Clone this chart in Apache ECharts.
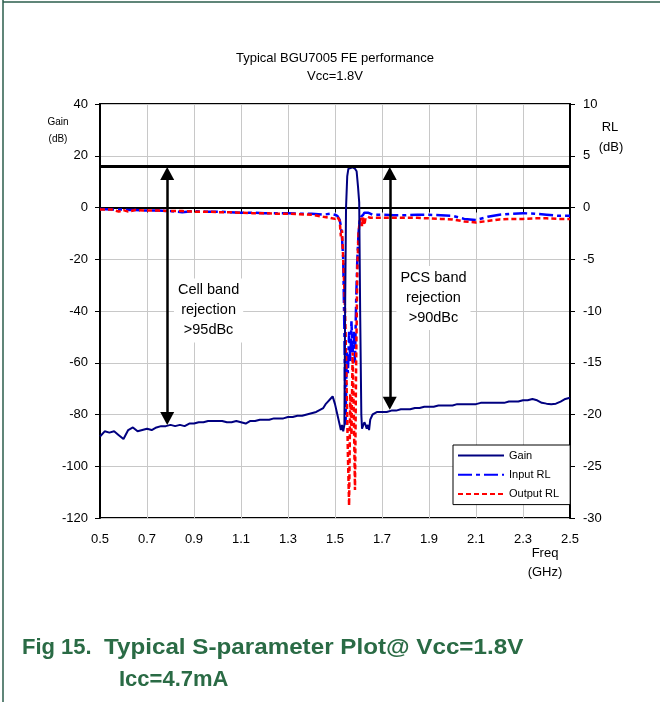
<!DOCTYPE html>
<html><head><meta charset="utf-8">
<script src="https://cdn.jsdelivr.net/npm/echarts@6/dist/echarts.min.js"></script>
<style>html,body{margin:0;padding:0;background:#fff}#c{width:660px;height:702px}</style>
</head><body><div id="c"></div>
<script>
// ---- Gain (left axis, dB) ----
const gainFreq = [0.50,0.52,0.54,0.56,0.58,0.60,0.62,0.64,0.66,0.68,0.70,0.72,0.74,0.76,0.78,0.80,0.82,0.84,0.86,0.88,0.90,0.92,0.94,0.96,0.98,1.00,1.02,1.04,1.06,1.08,1.10,1.12,1.14,1.16,1.18,1.20,1.22,1.24,1.26,1.28,1.30,1.32,1.34,1.36,1.38,1.40,1.42,1.44,
  1.45,1.46,1.47,1.48,1.49,1.495,1.50,1.51,1.52,1.525,1.53,1.535,1.54,1.543,1.547,1.552,1.557,1.565,1.575,1.585,1.592,1.598,1.603,1.607,1.612,1.615,1.62,1.625,1.63,1.635,1.64,1.645,1.65,1.66,1.67,1.68,1.70,
  1.72,1.74,1.76,1.78,1.80,1.82,1.84,1.86,1.88,1.90,1.92,1.94,1.96,1.98,2.00,2.02,2.04,2.06,2.08,2.10,2.12,2.14,2.16,2.18,2.20,2.22,2.24,2.26,2.28,2.30,2.32,2.34,2.36,2.38,2.40,2.42,2.44,2.46,2.48,2.50];
const gainDb = [-88.5,-86.5,-87,-86.5,-88,-89.5,-86,-85,-86.5,-86,-85.5,-86,-85,-84.5,-84.5,-84,-84.5,-84,-84.5,-83.5,-83.5,-83,-83,-82.5,-82.5,-82.5,-82.5,-83,-83,-82.5,-83,-83.5,-82.5,-82.5,-82,-82,-82,-81.5,-81.5,-81.5,-81,-81,-80.5,-80.5,-80,-79.5,-79,-78,
  -77.5,-76,-75,-74,-73,-73.5,-76,-80,-84,-86,-84,-86.5,-84,-40,0,12,15,15.5,15.5,15,14,8,2,-40,-80,-85.5,-85,-83,-84,-85.5,-84,-86,-82,-80,-79.5,-79,-79,
  -79,-78.5,-78.5,-78,-78,-78,-77.5,-77.5,-77,-77,-77,-76.5,-76.5,-76.5,-76.5,-76,-76,-76,-76,-76,-75.5,-75.5,-75.5,-75.5,-75.5,-75.5,-75,-75,-75,-74.5,-74.5,-74,-74.5,-75.5,-75.8,-76,-75.8,-75,-74,-73.5];

// ---- Return loss (right axis, dB) ----
const rlFreq = [0.50,0.55,0.58,0.60,0.62,0.65,0.70,0.75,0.80,0.85,0.90,0.95,1.00,1.05,1.10,1.15,1.20,1.25,1.30,1.35,1.40,1.45,1.48,1.50,1.51,1.52,1.525,1.53,1.535,1.54,1.545,1.55,1.555,1.56,1.565,1.57,1.575,1.58,1.585,1.59,1.595,1.60,1.605,1.61,1.615,1.62,1.625,1.63,1.64,1.65,1.66,1.70,1.75,1.80,1.85,1.90,1.95,2.00,2.05,2.10,2.15,2.20,2.25,2.30,2.35,2.40,2.45,2.50];
const inputRl = [-0.15,-0.2,-0.2,-0.2,-0.25,-0.25,-0.3,-0.3,-0.35,-0.45,-0.35,-0.4,-0.4,-0.45,-0.5,-0.5,-0.55,-0.55,-0.55,-0.6,-0.6,-0.7,-0.6,-0.7,-0.8,-1.2,-1.8,-3,-5,-12,-21,-14,-16,-12,-15,-11,-14,-12,-15,-9,-5,-2.5,-1.2,-0.9,-0.8,-0.7,-0.5,-0.6,-0.5,-0.6,-0.7,-0.7,-0.75,-0.75,-0.7,-0.7,-0.75,-0.8,-1.1,-1.2,-0.9,-0.7,-0.6,-0.55,-0.6,-0.7,-0.8,-0.8];
const outputRl = [-0.2,-0.2,-0.4,-0.25,-0.4,-0.25,-0.3,-0.3,-0.35,-0.35,-0.4,-0.4,-0.45,-0.45,-0.5,-0.55,-0.55,-0.6,-0.6,-0.65,-0.7,-0.9,-1.0,-1.1,-0.9,-1.3,-2.8,-2.2,-5,-8,-12,-18,-24,-28.8,-18,-22,-14,-20,-27.3,-15,-6,-2.5,-1.3,-1.0,-1.8,-0.9,-1.7,-1.0,-0.9,-1.0,-1.0,-1.0,-1.0,-1.0,-1.0,-1.05,-1.1,-1.15,-1.35,-1.45,-1.3,-1.15,-1.1,-1.1,-1.05,-1.05,-1.1,-1.1];

// ---- Axes ----
const xRange = [0.5, 2.5, 0.2];
const gainRange = [-120, 40, 20];
const rlRange = [-30, 10, 5];

// ---- Annotations (data units) ----
const refLineGain = 15.8;
const arrowX = [0.786, 1.733];
const arrowTop = [13.1, 13.1];
const arrowBottom = [-81.5, -75.7];
const noteText = ['Cell band\nrejection\n>95dBc', 'PCS band\nrejection\n>90dBc'];
const noteX = [0.962, 1.919];
const noteY = [-39.8, -35];

const FONT = '"Liberation Sans", Arial, sans-serif';
const zip = (a, b) => a.map((v, i) => [v, b[i]]);

const chart = echarts.init(document.getElementById('c'), null, {renderer: 'canvas'});
const axisCommon = {
  axisLine: {show: true, lineStyle: {color: '#000', width: 2}},
  axisTick: {show: true, length: 5, lineStyle: {color: '#000', width: 1}},
  axisLabel: {color: '#000', fontSize: 13, fontFamily: FONT}
};
chart.setOption({
  animation: false,
  grid: {left: 100, right: 90, top: 104, bottom: 184, show: true, borderColor: '#000', borderWidth: 2, backgroundColor: 'transparent'},
  legend: {
    data: ['Gain', 'Input RL', 'Output RL'],
    orient: 'vertical', left: 453, top: 445,
    itemWidth: 46, itemHeight: 14, itemGap: 8,
    padding: [5, 11, 5, 4],
    borderColor: '#000', borderWidth: 1, backgroundColor: '#fff',
    itemStyle: {opacity: 0},
    textStyle: {fontSize: 11, color: '#000', fontFamily: FONT},
    selectedMode: false
  },
  xAxis: Object.assign({}, axisCommon, {
    type: 'value', min: xRange[0], max: xRange[1], interval: xRange[2],
    axisLabel: Object.assign({}, axisCommon.axisLabel, {margin: 15, formatter: v => v.toFixed(1)}),
    splitLine: {show: true, lineStyle: {color: '#c8c8c8', width: 1}}
  }),
  yAxis: [
    Object.assign({}, axisCommon, {
      type: 'value', min: gainRange[0], max: gainRange[1], interval: gainRange[2], position: 'left',
      axisLabel: Object.assign({}, axisCommon.axisLabel, {margin: 12}),
      splitLine: {show: true, lineStyle: {color: '#c8c8c8', width: 1}}
    }),
    Object.assign({}, axisCommon, {
      type: 'value', min: rlRange[0], max: rlRange[1], interval: rlRange[2], position: 'right',
      axisLabel: Object.assign({}, axisCommon.axisLabel, {margin: 13}),
      splitLine: {show: false}
    })
  ],
  series: [
    {name: 'Input RL', type: 'line', yAxisIndex: 1, data: zip(rlFreq, inputRl), symbol: 'none', z: 2,
     itemStyle: {color: '#0000ff'}, lineStyle: {color: '#0000ff', width: 2.5, type: [14, 4, 4, 4]}},
    {name: 'Output RL', type: 'line', yAxisIndex: 1, data: zip(rlFreq, outputRl), symbol: 'none', z: 3,
     itemStyle: {color: '#ff0000'}, lineStyle: {color: '#ff0000', width: 2.5, type: [5, 3]}},
    {name: 'Gain', type: 'line', yAxisIndex: 0, data: zip(gainFreq, gainDb), symbol: 'none', z: 4,
     itemStyle: {color: '#000080'}, lineStyle: {color: '#000080', width: 2}},
    {name: 'refline', type: 'line', yAxisIndex: 0, data: [], z: 5,
     markLine: {silent: true, symbol: 'none', label: {show: false},
       lineStyle: {color: '#000', width: 3, type: 'solid'},
       data: [{yAxis: refLineGain}]}},
    {name: 'arrows', type: 'line', yAxisIndex: 0, data: [], z: 6,
     markLine: {silent: true, symbol: ['triangle', 'triangle'], symbolSize: [14, 13], label: {show: false},
       lineStyle: {color: '#000', width: 2.5, type: 'solid'}, itemStyle: {color: '#000'},
       data: arrowX.map((x, i) => [{coord: [x, arrowTop[i]]}, {coord: [x, arrowBottom[i]]}])}},
    {name: 'notes', type: 'line', yAxisIndex: 0, data: [], z: 7,
     markPoint: {silent: true, symbol: 'rect', symbolSize: 1, itemStyle: {color: 'rgba(0,0,0,0)'},
       label: {show: true, position: 'inside', formatter: p => p.name, color: '#000', fontSize: 14.5, fontFamily: FONT,
         lineHeight: 20, backgroundColor: '#fff', padding: [2, 4]},
       data: noteText.map((t, i) => ({name: t, coord: [noteX[i], noteY[i]]}))}}
  ],
  graphic: [
    {type: 'line', shape: {x1: 3, y1: 0, x2: 3, y2: 702}, style: {stroke: '#2b5e4c', lineWidth: 1.5}},
    {type: 'line', shape: {x1: 3, y1: 2, x2: 660, y2: 2}, style: {stroke: '#2b5e4c', lineWidth: 1.5}},
    {type: 'text', x: 335, y: 58, style: {text: 'Typical BGU7005 FE performance', align: 'center', verticalAlign: 'middle', fontSize: 13, fontFamily: FONT, fill: '#000'}},
    {type: 'text', x: 335, y: 76, style: {text: 'Vcc=1.8V', align: 'center', verticalAlign: 'middle', fontSize: 13, fontFamily: FONT, fill: '#000'}},
    {type: 'text', x: 58, y: 122, style: {text: 'Gain', align: 'center', verticalAlign: 'middle', fontSize: 10, fontFamily: FONT, fill: '#000'}},
    {type: 'text', x: 58, y: 139, style: {text: '(dB)', align: 'center', verticalAlign: 'middle', fontSize: 10, fontFamily: FONT, fill: '#000'}},
    {type: 'text', x: 610, y: 127, style: {text: 'RL', align: 'center', verticalAlign: 'middle', fontSize: 13, fontFamily: FONT, fill: '#000'}},
    {type: 'text', x: 611, y: 147, style: {text: '(dB)', align: 'center', verticalAlign: 'middle', fontSize: 13, fontFamily: FONT, fill: '#000'}},
    {type: 'text', x: 545, y: 553, style: {text: 'Freq', align: 'center', verticalAlign: 'middle', fontSize: 13, fontFamily: FONT, fill: '#000'}},
    {type: 'text', x: 545, y: 572, style: {text: '(GHz)', align: 'center', verticalAlign: 'middle', fontSize: 13, fontFamily: FONT, fill: '#000'}},
    {type: 'text', x: 22, y: 648, style: {text: 'Fig 15.', align: 'left', verticalAlign: 'middle', fontSize: 22, fontWeight: 'bold', fontFamily: FONT, fill: '#2a6b45'}},
    {type: 'text', x: 104, y: 648, scaleX: 1.1, style: {text: 'Typical S-parameter Plot@ Vcc=1.8V', align: 'left', verticalAlign: 'middle', fontSize: 22, fontWeight: 'bold', fontFamily: FONT, fill: '#2a6b45'}},
    {type: 'text', x: 119, y: 680, style: {text: 'Icc=4.7mA', align: 'left', verticalAlign: 'middle', fontSize: 22, fontWeight: 'bold', fontFamily: FONT, fill: '#2a6b45'}}
  ]
});
</script>
</body></html>
